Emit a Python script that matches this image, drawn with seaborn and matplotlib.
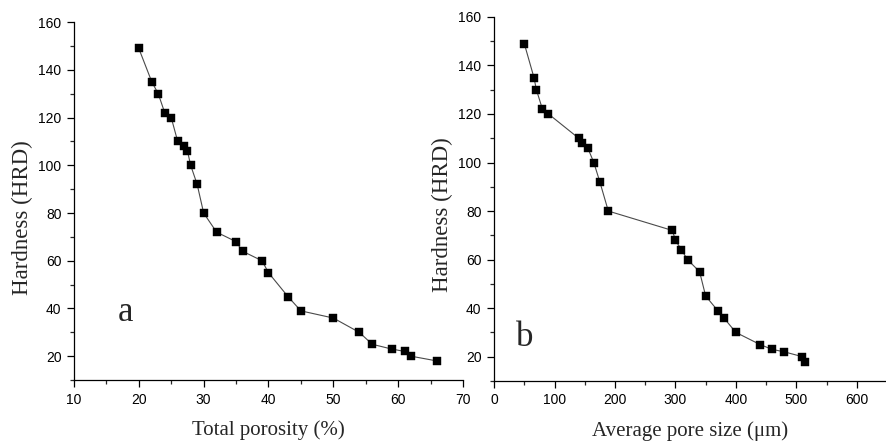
import matplotlib
matplotlib.use("Agg")
import matplotlib.pyplot as plt
from matplotlib.ticker import MultipleLocator
import seaborn as sns
import pandas as pd

# Hardness vs. total porosity
porosity = [20, 22, 23, 24, 25, 26, 27, 27.5, 28, 29, 30, 32, 35, 36, 39, 40,
            43, 45, 50, 54, 56, 59, 61, 62, 66]
hardness_a = [149, 135, 130, 122, 120, 110, 108, 106, 100, 92, 80, 72, 68, 64,
              60, 55, 45, 39, 36, 30, 25, 23, 22, 20, 18]

# Hardness vs. average pore size
pore_size = [50, 66, 70, 80, 90, 140, 145, 155, 165, 175, 189, 295, 300, 310,
             320, 340, 350, 370, 380, 400, 440, 460, 480, 510, 515]
hardness_b = [149, 135, 130, 122, 120, 110, 108, 106, 100, 92, 80, 72, 68, 64,
              60, 55, 45, 39, 36, 30, 25, 23, 22, 20, 18]

df_a = pd.DataFrame({"x": porosity, "y": hardness_a})
df_b = pd.DataFrame({"x": pore_size, "y": hardness_b})

sns.set_style("ticks")
plt.rcParams["font.family"] = ["Liberation Sans", "DejaVu Sans"]
serif = ["Liberation Serif", "DejaVu Serif"]

fig = plt.figure(figsize=(8.87, 4.44), dpi=100)
ax_a = fig.add_axes([0.0834, 0.144, 0.4386, 0.806])
ax_b = fig.add_axes([0.557, 0.142, 0.443, 0.820])

panels = [
    (ax_a, df_a, (10, 70), 10, 5, "Total porosity (%)", "a", (18, 38.5),
     (-0.104, 0.455)),
    (ax_b, df_b, (0, 650), 100, 50, "Average pore size (\u03bcm)", "b", (51, 28),
     (-0.104, 0.456)),
]

for ax, df, xlim, major, minor, xlabel, tag, tag_pos, ylab_pos in panels:
    sns.lineplot(data=df, x="x", y="y", ax=ax, sort=False, color="#4a4a4a",
                 linewidth=0.8)
    sns.scatterplot(data=df, x="x", y="y", ax=ax, marker="s", s=40,
                    color="black", edgecolor="black", linewidth=0.3, zorder=3)
    ax.set_xlim(*xlim)
    ax.set_ylim(10, 160)
    ax.xaxis.set_major_locator(MultipleLocator(major))
    ax.xaxis.set_minor_locator(MultipleLocator(minor))
    ax.yaxis.set_minor_locator(MultipleLocator(10))
    ax.set_yticks([20, 40, 60, 80, 100, 120, 140, 160])
    ax.tick_params(which="major", direction="out", length=5, width=0.9,
                   labelsize=10, colors="black", pad=4)
    ax.tick_params(which="minor", direction="out", length=3, width=0.9)
    for side in ("top", "right"):
        ax.spines[side].set_visible(False)
    for side in ("left", "bottom"):
        ax.spines[side].set_linewidth(0.9)
        ax.spines[side].set_color("black")
    ax.set_xlabel(xlabel, family=serif, fontsize=15, labelpad=10)
    ax.set_ylabel("Hardness (HRD)", family=serif, fontsize=16.5)
    ax.yaxis.set_label_coords(*ylab_pos)
    ax.text(tag_pos[0], tag_pos[1], tag, family=serif, fontsize=25,
            ha="center", va="center")

fig.savefig("out.png", dpi=100, facecolor="white")
